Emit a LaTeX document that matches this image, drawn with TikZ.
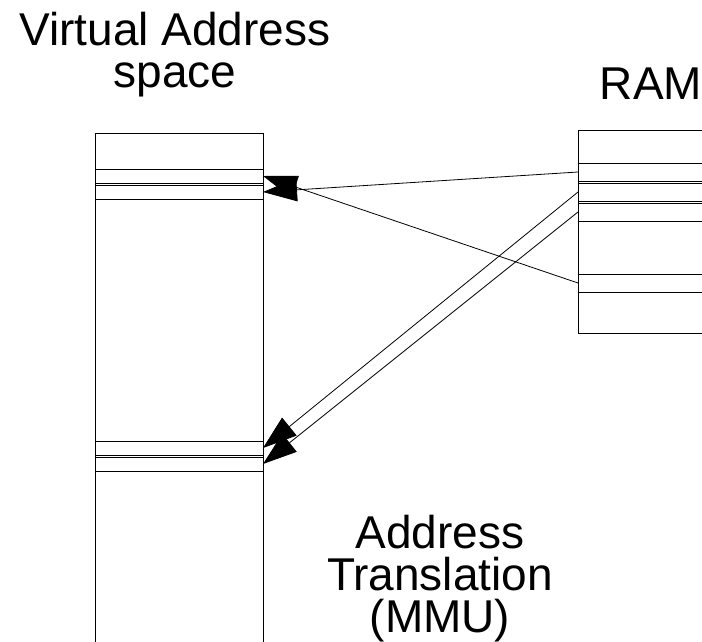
\documentclass[tikz,border=0pt]{standalone}
\usepackage{fontspec}
\setmainfont{Liberation Sans}
\usetikzlibrary{arrows.meta}

\tikzset{
  box/.style={draw, line width=0.8pt, inner sep=0pt, outer sep=0pt, anchor=north west},
  title/.style={inner sep=0pt, align=center, font=\fontsize{46}{42}\selectfont},
  map/.style={line width=0.8pt, -{Triangle[length=34pt,width=23pt]}}
}

\begin{document}
\begin{tikzpicture}[x=1pt,y=-1pt]
  \useasboundingbox (0,0) rectangle (702,642);
  \clip (0,0) rectangle (702,642);
  % the two address spaces
  \node[box, minimum width=168pt, minimum height=530pt] (virt) at (95,133) {};
  \node[box, minimum width=140pt, minimum height=203pt] (ram) at (578,130) {};
  % pages in virtual memory
  \foreach \name/\y in {v1/169, v2/185, v3/441, v4/457}
    \node[box, minimum width=168pt, minimum height=14pt] (\name) at (95,\y) {};
  % frames in RAM
  \foreach \name/\y in {r1/163, r2/183, r3/203, r4/274}
    \node[box, minimum width=140pt, minimum height=18pt] (\name) at (578,\y) {};
  % mappings
  \draw[map] (r1.west) -- (v2.east);
  \draw[map] (r4.west) -- (v1.east);
  \draw[map] (r2.west) -- (v3.east);
  \draw[map] (r3.west) -- (v4.east);
  % labels
  \node[title, anchor=north] (vtitle) at (175,12) {Virtual Address\\space};
  \node[title, anchor=north] (ramtitle) at (651,68) {RAM};
  \node[title, anchor=north] (mmu) at (440,515) {Address\\Translation\\(MMU)};
\end{tikzpicture}
\end{document}
